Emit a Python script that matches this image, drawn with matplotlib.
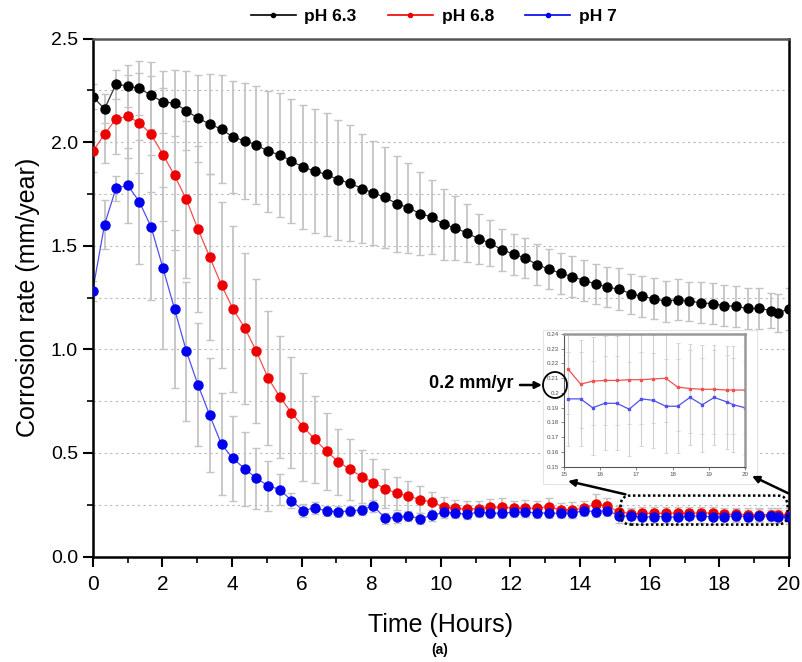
import matplotlib
matplotlib.use("Agg")
import matplotlib.pyplot as plt
from matplotlib.lines import Line2D
from matplotlib.patches import FancyBboxPatch, Ellipse, Rectangle
from matplotlib.ticker import MultipleLocator, FuncFormatter

# sampling times (hours)
time_h = [0.00, 0.34, 0.67, 1.01, 1.34, 1.68, 2.02, 2.35, 2.69, 3.02,
          3.36, 3.70, 4.03, 4.37, 4.70, 5.04, 5.38, 5.71, 6.05, 6.38,
          6.72, 7.06, 7.39, 7.73, 8.06, 8.40, 8.74, 9.07, 9.41, 9.74,
          10.08, 10.42, 10.75, 11.09, 11.42, 11.76, 12.10, 12.43, 12.77, 13.10,
          13.44, 13.78, 14.11, 14.45, 14.78, 15.12, 15.46, 15.79, 16.13, 16.46,
          16.80, 17.14, 17.47, 17.81, 18.14, 18.48, 18.82, 19.15, 19.49, 19.68, 20.00]

# corrosion rate (mm/year)
ph63 = [2.22, 2.16, 2.28, 2.27, 2.26, 2.225, 2.194, 2.188, 2.151, 2.116,
        2.087, 2.062, 2.024, 2.006, 1.987, 1.955, 1.939, 1.908, 1.879, 1.860,
        1.844, 1.818, 1.802, 1.776, 1.755, 1.733, 1.702, 1.683, 1.654, 1.639,
        1.604, 1.585, 1.561, 1.533, 1.512, 1.480, 1.459, 1.440, 1.408, 1.387,
        1.367, 1.351, 1.332, 1.316, 1.300, 1.290, 1.268, 1.255, 1.244, 1.232,
        1.240, 1.232, 1.225, 1.220, 1.211, 1.207, 1.197, 1.197, 1.187, 1.176, 1.195]
ph68 = [1.955, 2.038, 2.112, 2.124, 2.093, 2.037, 1.939, 1.839, 1.723, 1.581,
        1.446, 1.309, 1.195, 1.102, 0.991, 0.861, 0.769, 0.693, 0.626, 0.565,
        0.507, 0.457, 0.420, 0.386, 0.357, 0.328, 0.305, 0.291, 0.275, 0.262,
        0.240, 0.232, 0.229, 0.231, 0.238, 0.238, 0.233, 0.233, 0.233, 0.241,
        0.225, 0.225, 0.233, 0.254, 0.243, 0.216, 0.206, 0.208, 0.2085, 0.2085,
        0.209, 0.209, 0.2095, 0.210, 0.204, 0.203, 0.2025, 0.2025, 0.202, 0.202, 0.202]
ph70 = [1.282, 1.602, 1.778, 1.791, 1.712, 1.589, 1.391, 1.195, 0.991, 0.830,
        0.682, 0.541, 0.473, 0.423, 0.378, 0.341, 0.323, 0.270, 0.222, 0.235,
        0.219, 0.217, 0.219, 0.225, 0.245, 0.184, 0.189, 0.196, 0.183, 0.198,
        0.213, 0.209, 0.204, 0.215, 0.209, 0.209, 0.214, 0.214, 0.211, 0.209,
        0.209, 0.209, 0.222, 0.216, 0.222, 0.196, 0.196, 0.190, 0.193, 0.193,
        0.189, 0.196, 0.195, 0.191, 0.191, 0.197, 0.192, 0.197, 0.194, 0.192, 0.190]

# standard deviations
ph63_err = [0.06, 0.07, 0.07, 0.10, 0.13, 0.16, 0.15, 0.16, 0.19, 0.21,
            0.24, 0.26, 0.27, 0.28, 0.285, 0.29, 0.30, 0.30, 0.30, 0.30,
            0.295, 0.29, 0.28, 0.265, 0.252, 0.242, 0.23, 0.218, 0.20, 0.18,
            0.172, 0.156, 0.138, 0.12, 0.11, 0.10, 0.098, 0.098, 0.098, 0.097,
            0.10, 0.097, 0.10, 0.098, 0.097, 0.10, 0.097, 0.098, 0.10, 0.098,
            0.10, 0.095, 0.10, 0.098, 0.098, 0.097, 0.097, 0.098, 0.085, 0.093, 0.10]
ph68_err = [0.10, 0.14, 0.17, 0.20, 0.24, 0.28, 0.32, 0.36, 0.38, 0.40,
            0.40, 0.40, 0.40, 0.365, 0.346, 0.324, 0.295, 0.268, 0.26, 0.21,
            0.187, 0.16, 0.148, 0.13, 0.113, 0.093, 0.08, 0.075, 0.065, 0.05,
            0.045, 0.04, 0.04, 0.035, 0.04, 0.045, 0.035, 0.04, 0.035, 0.04,
            0.035, 0.04, 0.035, 0.05, 0.04, 0.03, 0.03, 0.03, 0.03, 0.03,
            0.03, 0.03, 0.03, 0.03, 0.03, 0.03, 0.03, 0.03, 0.03, 0.03, 0.03]
ph70_err = [0.05, 0.12, 0.06, 0.18, 0.30, 0.35, 0.39, 0.38, 0.335, 0.297,
            0.274, 0.246, 0.205, 0.18, 0.148, 0.12, 0.073, 0.035, 0.03, 0.03,
            0.025, 0.025, 0.025, 0.025, 0.03, 0.025, 0.025, 0.025, 0.025, 0.025,
            0.025, 0.025, 0.025, 0.025, 0.025, 0.025, 0.025, 0.025, 0.025, 0.025,
            0.025, 0.025, 0.025, 0.025, 0.025, 0.032, 0.032, 0.032, 0.032, 0.032,
            0.032, 0.032, 0.032, 0.032, 0.032, 0.032, 0.032, 0.032, 0.032, 0.032, 0.032]

labels = ["pH 6.3", "pH 6.8", "pH 7"]
values = [ph63, ph68, ph70]
errors = [ph63_err, ph68_err, ph70_err]
marker_colors = ["#000000", "#ee0000", "#0000ee"]
line_colors = ["#333333", "#f05050", "#5050f0"]

inset_start = 45  # first sample shown in the zoomed view

plt.rcParams['font.family'] = ['Liberation Sans', 'DejaVu Sans']
narrow = ['Liberation Sans Narrow', 'Liberation Sans', 'DejaVu Sans']

fig = plt.figure(figsize=(8.03, 6.62), dpi=100)
ax = fig.add_axes([92.7 / 803, 1 - 556.5 / 662, (789 - 92.7) / 803, (556.5 - 38.5) / 662])

# horizontal dotted grid
for yv in [0.25 * k for k in range(1, 10)]:
    ax.axhline(yv, color='#b8b8b8', lw=0.8, ls=(0, (2, 3)), zorder=0)

for vals, err in zip(values, errors):
    ax.errorbar(time_h, vals, yerr=err, fmt='none', ecolor='#c4c4c4',
                elinewidth=1.3, capsize=3, capthick=1.0, zorder=1)
for vals, mc, lc in zip(values, marker_colors, line_colors):
    ax.plot(time_h, vals, '-', color=lc, lw=0.9, zorder=2)
    ax.plot(time_h, vals, 'o', color=mc, ms=6.5, mec=mc, zorder=3)

ax.set_xlim(0, 20)
ax.set_ylim(0, 2.5)
ax.xaxis.set_major_locator(MultipleLocator(2))
ax.xaxis.set_minor_locator(MultipleLocator(1))
ax.yaxis.set_major_locator(MultipleLocator(0.5))
ax.yaxis.set_minor_locator(MultipleLocator(0.25))
ax.yaxis.set_major_formatter(FuncFormatter(lambda v, p: f"{v:.1f}"))
ax.tick_params(which='major', direction='out', length=7, width=1.5, labelsize=14)
ax.tick_params(which='minor', direction='out', length=4, width=1.2)
ax.tick_params(axis='x', labelsize=15, pad=6)
for lbl in ax.get_xticklabels():
    lbl.set_family(narrow)
for side in ['left', 'bottom', 'right']:
    ax.spines[side].set_linewidth(1.8)
ax.spines['top'].set_linewidth(1.8)
ax.spines['top'].set_color('#555555')

ax.set_ylabel('Corrosion rate (mm/year)', fontsize=18, labelpad=8)
ax.set_xlabel('Time (Hours)', fontsize=18, family=narrow, labelpad=14)
fig.text(440 / 803, 1 - 650 / 662, '(a)', ha='center', va='center',
         fontsize=10, fontweight='bold', family=narrow)

# dotted box around the zoomed region
box = FancyBboxPatch((15.16, 0.154), 4.8, 0.14,
                     boxstyle='round,pad=0,rounding_size=0.3', mutation_aspect=0.16,
                     fill=False, ec='black', lw=1.8, ls=(0, (1, 1)), zorder=5, clip_on=False)
ax.add_patch(box)

# legend above the plot
handles = [Line2D([], [], color=mc, marker='o', ms=3, lw=1.2) for mc in marker_colors]
fig.legend(handles, labels, loc='upper center', bbox_to_anchor=(0.54, 1.01), ncol=3,
           frameon=False, prop={'weight': 'bold', 'size': 12.5},
           handlelength=2.6, columnspacing=1.8, handletextpad=0.5)

# white backing panel for the inset
fig.add_artist(Rectangle((543 / 803, 1 - 484 / 662), (757 - 543) / 803, (484 - 330) / 662,
                         transform=fig.transFigure, fc='white', ec='#e4e4e4', lw=0.8, zorder=2))

axin = fig.add_axes([564 / 803, 1 - 466.7 / 662, 181 / 803, 132.7 / 662])
axin.set_zorder(3)
for vals, err in zip(values[1:], errors[1:]):
    axin.errorbar(time_h[inset_start:], vals[inset_start:], yerr=err[inset_start:], fmt='none',
                  ecolor='#d0d0d0', elinewidth=0.8, capsize=1.5, capthick=0.6, zorder=1)
for vals, lc in zip(values[1:], line_colors[1:]):
    axin.plot(time_h[inset_start:], vals[inset_start:], '-s', color=lc, lw=0.9, ms=1.6, zorder=2)
axin.set_xlim(15, 20)
axin.set_ylim(0.15, 0.24)
axin.xaxis.set_major_locator(MultipleLocator(1))
axin.yaxis.set_major_locator(MultipleLocator(0.01))
axin.yaxis.set_major_formatter(FuncFormatter(lambda v, p: f"{v:g}"))
axin.tick_params(labelsize=4.5, length=2, width=0.5, colors='#555555', pad=1.5)
for side in ['left', 'bottom']:
    axin.spines[side].set_color('#555555')
    axin.spines[side].set_linewidth(0.8)
for side in ['top', 'right']:
    axin.spines[side].set_color('#999999')
    axin.spines[side].set_linewidth(1.8)

# highlight of the 0.2 label
fig.add_artist(Ellipse((555 / 803, 1 - 385 / 662), 24 / 803, 26 / 662, transform=fig.transFigure,
                       fill=False, ec='black', lw=1.3, zorder=4))
fig.text(471 / 803, 1 - 383 / 662, '0.2 mm/yr', ha='center', va='center',
         fontsize=13, fontweight='bold', zorder=4)
arrow = dict(arrowstyle='-|>', color='black', lw=1.8, mutation_scale=10, shrinkA=0, shrinkB=0)
axin.annotate('', xy=(542 / 803, 1 - 385 / 662), xycoords='figure fraction',
              xytext=(520 / 803, 1 - 385 / 662), textcoords='figure fraction', arrowprops=arrow)
axin.annotate('', xy=(568 / 803, 1 - 481 / 662), xycoords='figure fraction',
              xytext=(15.3, 0.30), textcoords=ax.transData, arrowprops=arrow)
axin.annotate('', xy=(752 / 803, 1 - 476 / 662), xycoords='figure fraction',
              xytext=(19.98, 0.305), textcoords=ax.transData, arrowprops=arrow)

fig.savefig('out.png', dpi=100)
